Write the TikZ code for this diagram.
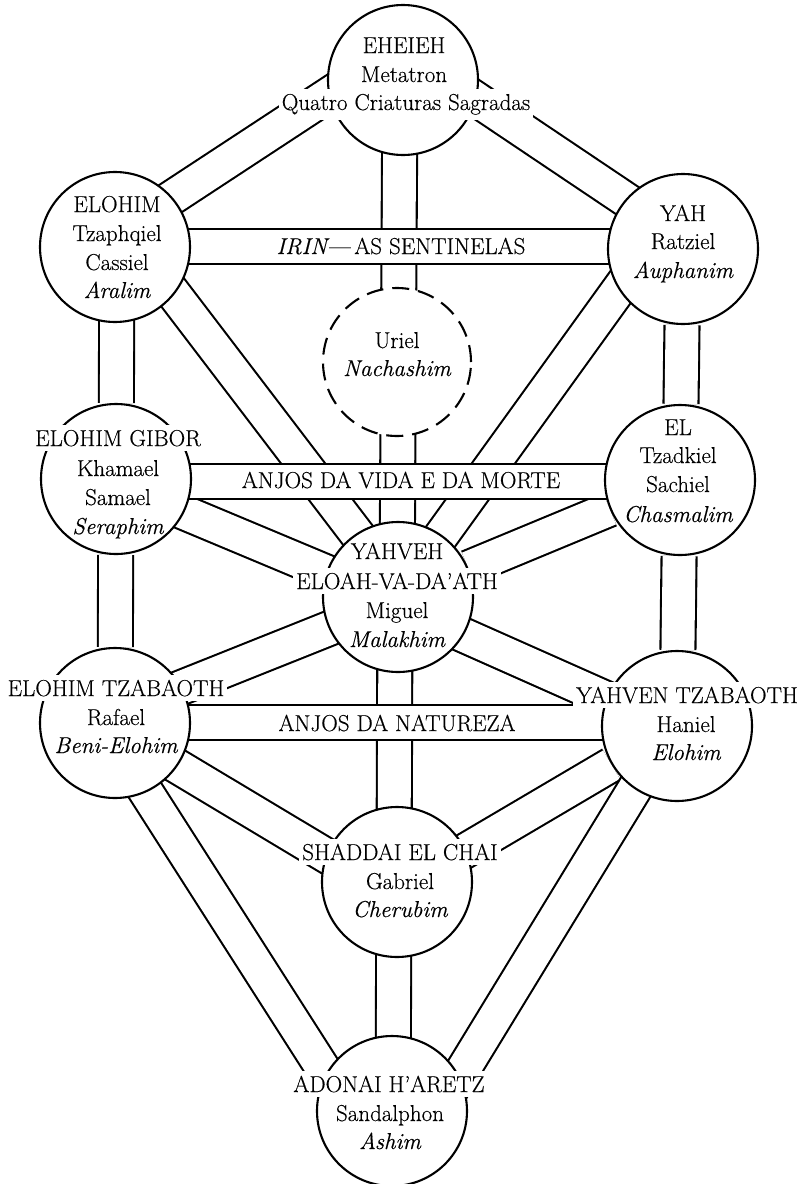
\documentclass[tikz,border=0pt]{standalone}
\usepackage{fontspec}
\setmainfont{Latin Modern Roman}[FakeBold=0.4]
\usetikzlibrary{calc,backgrounds}
\begin{document}
\begin{tikzpicture}[x=1pt,y=-1pt,
  every node/.style={font=\fontsize{23}{28}\selectfont},
  sephira/.style={circle, draw, fill=white, line width=2.1pt, minimum size=150pt, inner sep=0pt},
  hiddensephira/.style={sephira, dash pattern=on 17pt off 9pt, minimum size=148pt},
  channel/.style={line width=2.1pt, double=white, double distance=32.9pt},
  lbl/.style={anchor=base, inner sep=0pt},
  widelbl/.style={anchor=base, fill=white, inner xsep=3pt, inner ysep=5pt},
]
\useasboundingbox (0,0) rectangle (806,1184);

% the sephiroth
\node[sephira] (kether)    at (403,80)   {};
\node[sephira] (chokmah)   at (683,249)  {};
\node[sephira] (binah)     at (115,247)  {};
\node[hiddensephira] (daath) at (397,362) {};
\node[sephira] (chesed)    at (680,480)  {};
\node[sephira] (geburah)   at (116,479)  {};
\node[sephira] (tiphareth) at (398,597)  {};
\node[sephira] (netzach)   at (677,726)  {};
\node[sephira] (hod)       at (115,723)  {};
\node[sephira] (yesod)     at (397,882)  {};
\node[sephira] (malkuth)   at (392,1111) {};

% the paths, beneath the circles
\begin{pgfonlayer}{background}
  \draw[channel] ($(kether)+(0,-34)$) -- ($(binah)+(0,-12)$);
  \draw[channel] ($(kether)+(0,-30)$) -- ($(chokmah)+(0,-11)$);
  \draw[channel] ($(kether)+(-3,0)$) -- ($(tiphareth)+(-1,0)$);
  \draw[channel] ($(binah)+(2,0)$) -- (geburah);
  \draw[channel] (geburah) -- (hod);
  \draw[channel] (chokmah) -- (chesed);
  \draw[channel] (chesed) -- (netzach);
  \draw[channel] ($(tiphareth)+(-3,0)$) -- ($(yesod)+(-3,0)$);
  \draw[channel] ($(yesod)+(-3,0)$) -- ($(malkuth)+(1,0)$);
  \draw[channel] ($(binah)+(23,0)$) -- ($(tiphareth)+(7,0)$);
  \draw[channel] ($(chokmah)+(-35,0)$) -- ($(tiphareth)+(-1,0)$);
  \draw[channel] ($(geburah)+(0,5)$) -- ($(tiphareth)+(0,5)$);
  \draw[channel] (chesed) -- (tiphareth);
  \draw[channel] ($(hod)+(0,-9)$) -- ($(tiphareth)+(0,4)$);
  \draw[channel] ($(netzach)+(0,4)$) -- ($(tiphareth)+(0,9)$);
  \draw[channel] ($(hod)+(0,6)$) -- ($(yesod)+(0,16)$);
  \draw[channel] (netzach) -- ($(yesod)+(0,9)$);
  \draw[channel] ($(hod)+(-13,0)$) -- ($(malkuth)+(-42,0)$);
  \draw[channel] ($(netzach)+(-4,0)$) -- ($(malkuth)+(46,0)$);
  % horizontal paths lie over the others
  \draw[channel] ($(binah)+(0,-0.5)$) -- ($(chokmah)+(0,-2.5)$);
  \draw[channel] ($(geburah)+(0,2.5)$) -- ($(chesed)+(0,1.5)$);
  \draw[channel] ($(hod)+(0,-0.5)$) -- ($(netzach)+(0,-3.5)$);
\end{pgfonlayer}

% names on the horizontal paths
\node[lbl] (irin) at (401,254) {\textit{IRIN}---\,AS SENTINELAS};
\node[lbl] (vida) at (401,488) {ANJOS DA VIDA E DA MORTE};
\node[lbl] (natureza) at (397,731) {ANJOS DA NATUREZA};

% Kether
\node[lbl] (kether-a) at (404,53) {EHEIEH};
\node[lbl] (kether-b) at (404,82) {Metatron};
\node[widelbl] (kether-c) at (406,110) {Quatro Criaturas Sagradas};
% Binah
\node[lbl] (binah-a) at (117,212) {ELOHIM};
\node[lbl] (binah-b) at (117,241) {Tzaphqiel};
\node[lbl] (binah-c) at (117,270) {Cassiel};
\node[lbl] (binah-d) at (117,298) {\itshape Aralim};
% Chokmah
\node[lbl] (chokmah-a) at (683,221) {YAH};
\node[lbl] (chokmah-b) at (683,249) {Ratziel};
\node[lbl] (chokmah-c) at (683,278) {\itshape Auphanim};
% Daath
\node[lbl] (daath-a) at (397,348) {Uriel};
\node[lbl] (daath-b) at (397,376) {\itshape Nachashim};
% Geburah
\node[widelbl] (geburah-a) at (118,446) {ELOHIM GIBOR};
\node[lbl] (geburah-b) at (118,476) {Khamael};
\node[lbl] (geburah-c) at (118,505) {Samael};
\node[lbl] (geburah-d) at (118,534) {\itshape Seraphim};
% Chesed
\node[lbl] (chesed-a) at (678,435) {EL};
\node[lbl] (chesed-b) at (678,463) {Tzadkiel};
\node[lbl] (chesed-c) at (678,492) {Sachiel};
\node[lbl] (chesed-d) at (678,522) {\itshape Chasmalim};
% Tiphareth
\node[lbl] (tiphareth-a) at (397,559) {YAHVEH};
\node[widelbl] (tiphareth-b) at (397,589) {ELOAH-VA-DA'ATH};
\node[lbl] (tiphareth-c) at (397,618) {Miguel};
\node[lbl] (tiphareth-d) at (397,647) {\itshape Malakhim};
% Hod
\node[widelbl] (hod-a) at (116,696) {ELOHIM TZABAOTH};
\node[lbl] (hod-b) at (116,725) {Rafael};
\node[lbl] (hod-c) at (116,753) {\itshape Beni-Elohim};
% Netzach
\node[widelbl] (netzach-a) at (687,703) {YAHVEN TZABAOTH};
\node[lbl] (netzach-b) at (686,732) {Haniel};
\node[lbl] (netzach-c) at (686,760) {\itshape Elohim};
% Yesod
\node[widelbl] (yesod-a) at (400,860) {SHADDAI EL CHAI};
\node[lbl] (yesod-b) at (400,889) {Gabriel};
\node[lbl] (yesod-c) at (400,917) {\itshape Cherubim};
% Malkuth
\node[widelbl] (malkuth-a) at (389,1092) {ADONAI H'ARETZ};
\node[lbl] (malkuth-b) at (390,1121) {Sandalphon};
\node[lbl] (malkuth-c) at (390,1149) {\itshape Ashim};
\end{tikzpicture}
\end{document}
